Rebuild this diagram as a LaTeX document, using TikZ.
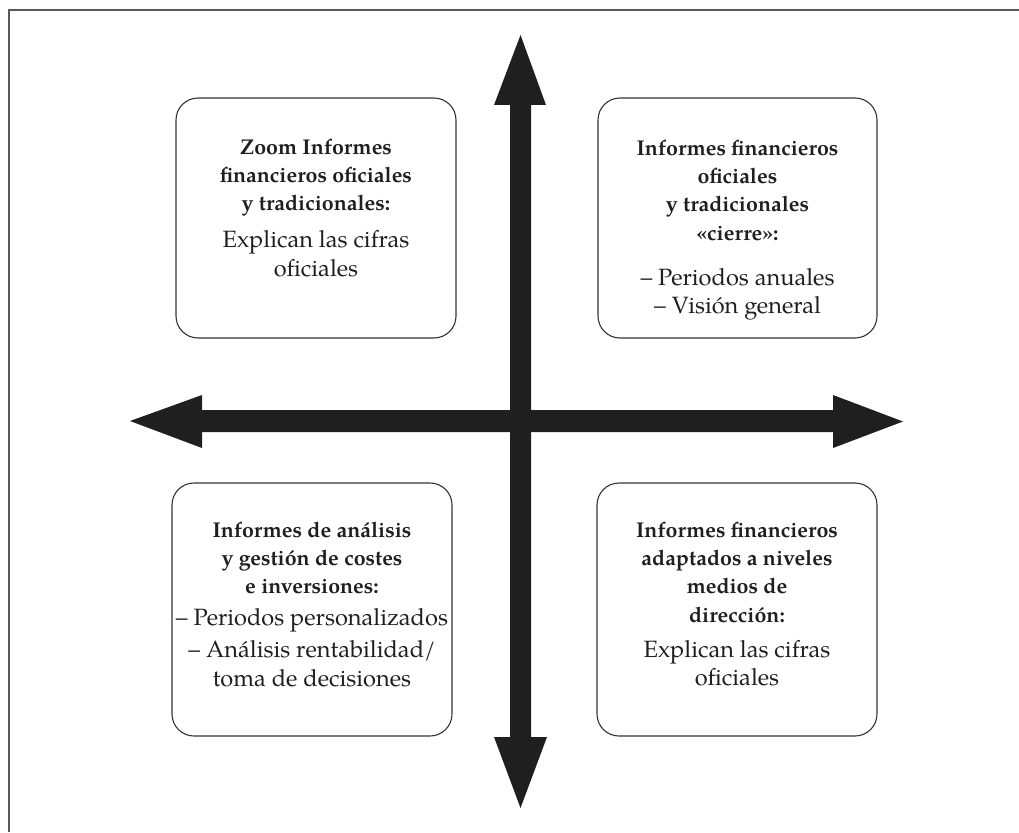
\documentclass[tikz,border=0pt]{standalone}
\usepackage{fontspec}
\setmainfont{TeX Gyre Pagella}
\newcommand\hd[1]{{\fontsize{21.4}{28.3}\selectfont\bfseries #1}}
\newcommand\fl{\rule{0pt}{16pt}}
\begin{document}
\begin{tikzpicture}[x=1pt,y=-1pt,
  qbox/.style={draw=black!80,line width=1.1pt,rounded corners=22pt,minimum width=#1,inner sep=0pt},
  qtxt/.style={align=center,inner sep=0pt,anchor=north,text=black!88,font=\fontsize{23.6}{28.3}\selectfont},
  axis/.style={fill=black!88,draw=none},
  frameline/.style={draw=black!65,line width=1.6pt}]
\useasboundingbox (0,0) rectangle (1019,832);
% frame (top and left edges)
\coordinate (fa) at (1019,10);
\coordinate (fb) at (9,10);
\coordinate (fc) at (9,832);
\draw[frameline] (fa) -- (fb) -- (fc);
% axes
\fill[axis] (130,421) -- (202,395) -- (202,410) -- (833,410) -- (833,395) -- (903,421.5)
  -- (833,448) -- (833,432) -- (202,432) -- (202,448) -- cycle;
\fill[axis] (520.5,35) -- (546,105) -- (531,105) -- (531,737) -- (547,737) -- (520.5,808)
  -- (494,737) -- (510,737) -- (510,105) -- (494,105) -- cycle;
% boxes
\node[qbox=280pt,minimum height=240pt] (tl) at (316,218) {};
\node[qbox=279pt,minimum height=240pt] (tr) at (737.5,218) {};
\node[qbox=280pt,minimum height=253pt] (bl) at (312,609.5) {};
\node[qbox=280pt,minimum height=253pt] (br) at (737,609.5) {};
% texts
\node[qtxt] (tlt) at (316,138) {\fl\hd{Zoom Informes}\\\hd{financieros oficiales}\\\hd{y tradicionales:}\\[8.7pt]Explican las cifras\\oficiales};
\node[qtxt] (trt) at (737.5,139) {\fl\hd{Informes financieros}\\\hd{oficiales}\\\hd{y tradicionales}\\\hd{«cierre»:}\\[16.7pt]– Periodos anuales\\– Visión general};
\node[qtxt] (blt) at (312,521) {\fl\hd{Informes de análisis}\\\hd{y gestión de costes}\\\hd{e inversiones:}\\[3.7pt]– Periodos personalizados\\[3.7pt]– Análisis rentabilidad/\\toma de decisiones};
\node[qtxt] (brt) at (737,521) {\fl\hd{Informes financieros}\\\hd{adaptados a niveles}\\\hd{medios de}\\\hd{dirección:}\\[6.7pt]Explican las cifras\\oficiales};
\end{tikzpicture}
\end{document}
